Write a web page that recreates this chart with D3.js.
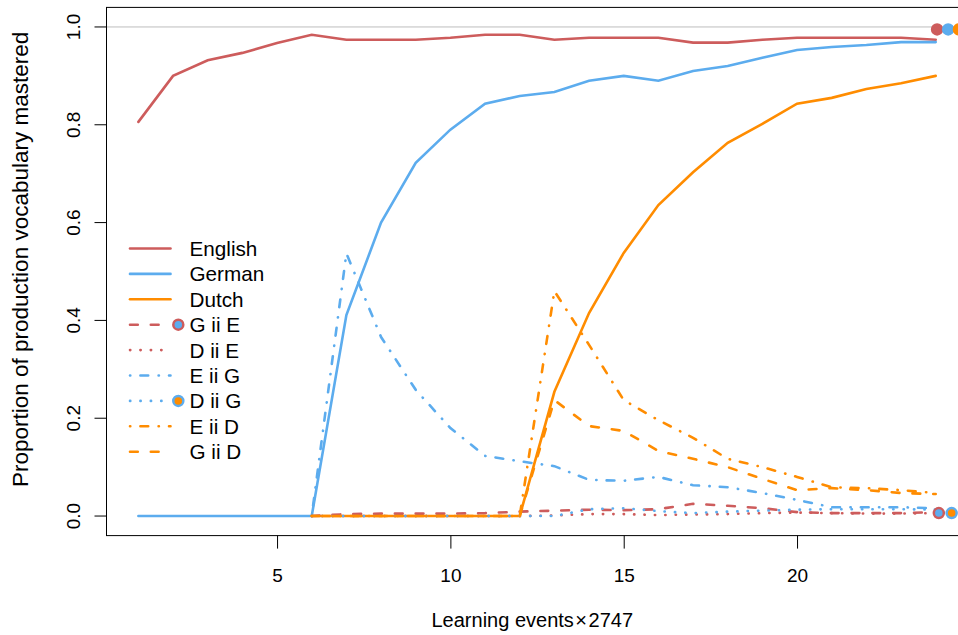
<!DOCTYPE html>
<html>
<head>
<meta charset="utf-8">
<script src="https://cdn.jsdelivr.net/npm/d3@7"></script>
<style>
  body { margin: 0; background: #fff; }
  svg { display: block; font-family: "Liberation Sans", Arial, sans-serif; }
</style>
</head>
<body>
<div id="content"></div>
<script>
// learning events (x) and proportion mastered per series
var events = [1, 2, 3, 4, 5, 6, 7, 8, 9, 10, 11, 12, 13, 14, 15, 16, 17, 18, 19, 20, 21, 22, 23, 24];
var english = [0.806, 0.900, 0.932, 0.947, 0.967, 0.984, 0.974, 0.974, 0.974, 0.978, 0.984, 0.984,
               0.974, 0.978, 0.978, 0.978, 0.968, 0.968, 0.974, 0.978, 0.978, 0.978, 0.978, 0.974];
var german = [0, 0, 0, 0, 0, 0, 0.411, 0.600, 0.722, 0.790, 0.843, 0.859,
              0.867, 0.890, 0.900, 0.890, 0.910, 0.920, 0.937, 0.953, 0.959, 0.963, 0.969, 0.969];
var dutch = [null, null, null, null, null, 0, 0, 0, 0, 0, 0, 0,
             0.254, 0.415, 0.538, 0.636, 0.703, 0.763, 0.802, 0.843, 0.855, 0.873, 0.885, 0.900];
var gIIe = [null, null, null, null, null, 0, 0.004, 0.005, 0.005, 0.005, 0.006, 0.009,
            0.011, 0.013, 0.012, 0.014, 0.025, 0.021, 0.016, 0.008, 0.006, 0.006, 0.006, 0.008];
var dIIe = [null, null, null, null, null, 0, 0, 0, 0, 0, 0, 0,
            0.001, 0.004, 0.004, 0.002, 0.003, 0.004, 0.006, 0.007, 0.006, 0.005, 0.005, 0.006];
var eIIg = [null, null, null, null, null, 0, 0.537, 0.366, 0.258, 0.180, 0.123, 0.112,
            0.102, 0.074, 0.072, 0.080, 0.063, 0.059, 0.047, 0.033, 0.018, 0.018, 0.018, 0.016];
var dIIg = [null, null, null, null, null, 0, 0, 0, 0, 0, 0, 0,
            0.000, 0.014, 0.016, 0.010, 0.006, 0.009, 0.011, 0.013, 0.014, 0.014, 0.014, 0.013];
var eIId = [null, null, null, null, null, 0, 0, 0, 0, 0, 0, 0,
            0.460, 0.350, 0.237, 0.196, 0.160, 0.117, 0.100, 0.080, 0.059, 0.057, 0.053, 0.047];
var gIId = [null, null, null, null, null, 0, 0, 0, 0, 0, 0, 0,
            0.237, 0.184, 0.174, 0.133, 0.117, 0.100, 0.076, 0.053, 0.057, 0.053, 0.047, 0.045];

var xTicks = [5, 10, 15, 20];
var yTicks = [0, 0.2, 0.4, 0.6, 0.8, 1.0];

// end-of-run summary dots (x in learning events, y proportion)
var topDots = [{x: 24.04, y: 0.995, key: 'red'}, {x: 24.36, y: 0.995, key: 'blue'}, {x: 24.67, y: 0.995, key: 'orange'}];
var bottomDots = [{x: 24.09, y: 0.006, ring: 'red', fill: 'blue'}, {x: 24.46, y: 0.006, ring: 'blue', fill: 'orange'}];

var col = {red: '#CD5C5C', blue: '#5CACEE', orange: '#FF8C00'};
var dash = {solid: null, dashed: '7.8,13', dotted: '0.3,10.1', dotdash: '0.3,10.1,7.8,10.4'};

var series = [
    {name: 'English', values: english, color: 'red', lty: 'solid'},
    {name: 'German', values: german, color: 'blue', lty: 'solid'},
    {name: 'Dutch', values: dutch, color: 'orange', lty: 'solid'},
    {name: 'G ii E', values: gIIe, color: 'red', lty: 'dashed', dot: {ring: 'red', fill: 'blue'}},
    {name: 'D ii E', values: dIIe, color: 'red', lty: 'dotted'},
    {name: 'E ii G', values: eIIg, color: 'blue', lty: 'dotdash'},
    {name: 'D ii G', values: dIIg, color: 'blue', lty: 'dotted', dot: {ring: 'blue', fill: 'orange'}},
    {name: 'E ii D', values: eIId, color: 'orange', lty: 'dotdash'},
    {name: 'G ii D', values: gIId, color: 'orange', lty: 'dashed'}
];

var W = 958, H = 635;
var plot = {left: 106.5, right: 967.6, top: 7.4, bottom: 535.6};

var svg = d3.select('#content').append('svg')
    .attr('width', W)
    .attr('height', H);

var x = d3.scaleLinear().domain([0.08, 24.92]).range([plot.left, plot.right]);
var y = d3.scaleLinear().domain([-0.04, 1.04]).range([plot.bottom, plot.top]);

// reference line at 1
svg.append('line')
    .attr('x1', plot.left).attr('x2', plot.right)
    .attr('y1', y(1)).attr('y2', y(1))
    .attr('stroke', '#BEBEBE').attr('stroke-width', 1);

var line = d3.line()
    .defined(function(d) { return d.v != null; })
    .x(function(d) { return x(d.x); })
    .y(function(d) { return y(d.v); });

series.forEach(function(s) {
    var pts = events.map(function(e, i) { return {x: e, v: s.values[i]}; });
    svg.append('path')
        .attr('d', line(pts))
        .attr('fill', 'none')
        .attr('stroke', col[s.color])
        .attr('stroke-width', 2.6)
        .attr('stroke-linecap', 'round')
        .attr('stroke-dasharray', dash[s.lty]);
});

svg.selectAll('circle.top').data(topDots).enter().append('circle')
    .attr('cx', function(d) { return x(d.x); })
    .attr('cy', function(d) { return y(d.y); })
    .attr('r', 5)
    .attr('fill', function(d) { return col[d.key]; })
    .attr('stroke', function(d) { return col[d.key]; })
    .attr('stroke-width', 2.5);

svg.selectAll('circle.bottom').data(bottomDots).enter().append('circle')
    .attr('cx', function(d) { return x(d.x); })
    .attr('cy', function(d) { return y(d.y); })
    .attr('r', 5)
    .attr('fill', function(d) { return col[d.fill]; })
    .attr('stroke', function(d) { return col[d.ring]; })
    .attr('stroke-width', 2.5);

// frame
svg.append('rect')
    .attr('x', plot.left).attr('y', plot.top)
    .attr('width', plot.right - plot.left).attr('height', plot.bottom - plot.top)
    .attr('fill', 'none').attr('stroke', '#000').attr('stroke-width', 1);

// x axis
var xAxis = svg.append('g')
    .attr('transform', 'translate(0,' + plot.bottom + ')')
    .call(d3.axisBottom(x).tickValues(xTicks).tickSize(13).tickPadding(20));
xAxis.select('.domain').remove();
xAxis.selectAll('line').attr('stroke', '#000');
xAxis.selectAll('text')
    .attr('font-family', '"Liberation Sans", Arial, sans-serif')
    .attr('font-size', 19).attr('fill', '#000');

// y axis, labels parallel to axis
var yAxis = svg.append('g');
yAxis.selectAll('line').data(yTicks).enter().append('line')
    .attr('x1', plot.left - 12).attr('x2', plot.left)
    .attr('y1', function(d) { return y(d); })
    .attr('y2', function(d) { return y(d); })
    .attr('stroke', '#000');
yAxis.selectAll('text').data(yTicks).enter().append('text')
    .attr('transform', function(d) { return 'translate(80,' + y(d) + ') rotate(-90)'; })
    .attr('text-anchor', 'middle')
    .attr('font-size', 19)
    .text(d3.format('.1f'));

// axis titles
var xlab = svg.append('text')
    .attr('x', 431.5).attr('y', 627.3)
    .attr('font-size', 20);
xlab.append('tspan').text('Learning events');
xlab.append('tspan').attr('dx', 1.5).text('\u00D7');
xlab.append('tspan').attr('dx', 1.5).text('2747');

svg.append('text')
    .attr('transform', 'translate(28.3,487) rotate(-90)')
    .attr('font-size', 22.5)
    .text('Proportion of production vocabulary mastered');

// legend
var legend = svg.append('g');
series.forEach(function(s, i) {
    var ly = 248.5 + i * 25.4;
    legend.append('line')
        .attr('x1', 130).attr('x2', 170.5)
        .attr('y1', ly).attr('y2', ly)
        .attr('stroke', col[s.color])
        .attr('stroke-width', 2.6)
        .attr('stroke-linecap', 'round')
        .attr('stroke-dasharray', dash[s.lty]);
    if (s.dot) {
        legend.append('circle')
            .attr('cx', 178.3).attr('cy', ly).attr('r', 5)
            .attr('fill', col[s.dot.fill])
            .attr('stroke', col[s.dot.ring])
            .attr('stroke-width', 2.5);
    }
    legend.append('text')
        .attr('x', 189.5).attr('y', ly)
        .attr('dy', '0.36em')
        .attr('font-size', 20.7)
        .text(s.name);
});
</script>
</body>
</html>
